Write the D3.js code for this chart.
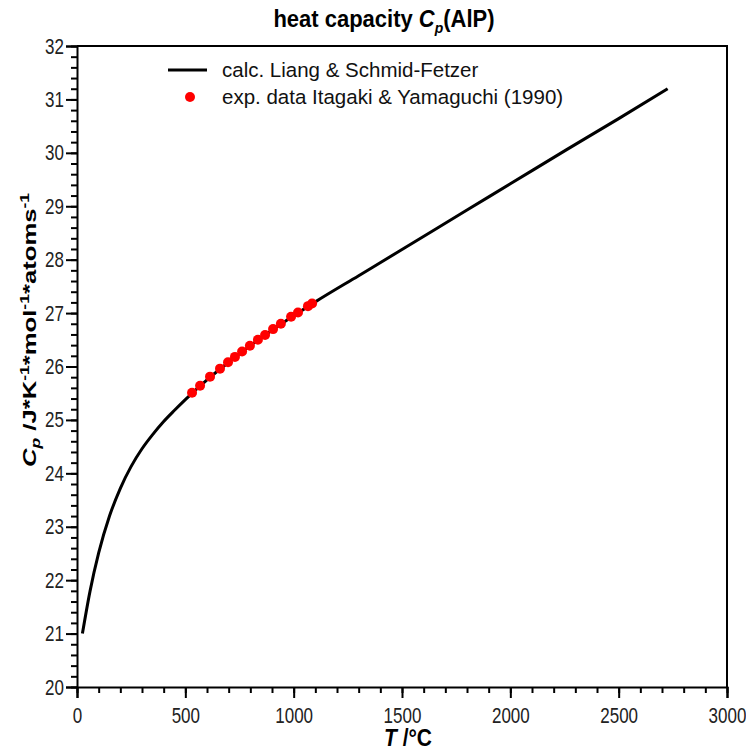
<!DOCTYPE html>
<html>
<head>
<meta charset="utf-8">
<script src="https://cdn.jsdelivr.net/npm/d3@7"></script>
<style>
  body { margin: 0; background: #fff; }
  svg text { font-family: "Liberation Sans", Arial, sans-serif; }
</style>
</head>
<body>
<svg id="chart" width="746" height="751"></svg>
<script>
// calculated curve (T in °C, Cp)
var calcT  = [25, 60, 100, 150, 200, 250, 300, 350, 400, 450, 500, 600, 700, 800, 900, 1000, 1100, 1300, 1500, 1800, 2000, 2260, 2500, 2726];
var calcCp = [21.0, 21.79, 22.51, 23.2, 23.72, 24.13, 24.46, 24.73, 24.97, 25.18, 25.38, 25.75, 26.08, 26.39, 26.68, 26.95, 27.21, 27.7, 28.19, 28.93, 29.42, 30.06, 30.64, 31.2];

// experimental points, Itagaki & Yamaguchi (1990)
var expT  = [531, 568, 614, 660, 697, 729, 762, 798, 835, 868, 905, 941, 988, 1020, 1066, 1085];
var expCp = [25.51, 25.64, 25.81, 25.96, 26.08, 26.18, 26.28, 26.39, 26.5, 26.59, 26.7, 26.8, 26.93, 27.01, 27.13, 27.18];

var xTicks = [0, 500, 1000, 1500, 2000, 2500, 3000];
var yTicks = [20, 21, 22, 23, 24, 25, 26, 27, 28, 29, 30, 31, 32];

var svg = d3.select("#chart");
var margin = { top: 46, right: 19, bottom: 64, left: 77 };
var width = 746 - margin.left - margin.right;
var height = 751 - margin.top - margin.bottom;

var g = svg.append("g")
    .attr("transform", "translate(" + margin.left + "," + margin.top + ")");

var x = d3.scaleLinear().domain([0, 3000]).range([0, width]);
var y = d3.scaleLinear().domain([20, 32]).range([height, 0]);

// minor ticks
g.append("g")
    .attr("transform", "translate(0," + height + ")")
    .call(d3.axisBottom(x).tickValues(d3.range(0, 3001, 100)).tickSize(6).tickFormat(""))
    .call(function(s) { s.select(".domain").remove(); });
g.append("g")
    .call(d3.axisLeft(y).tickValues(d3.range(0, 61).map(function(i) { return 20 + i * 0.2; })).tickSize(6).tickFormat(""))
    .call(function(s) { s.select(".domain").remove(); });

// major ticks
var xAxis = g.append("g")
    .attr("transform", "translate(0," + height + ")")
    .call(d3.axisBottom(x).tickValues(xTicks).tickSize(11).tickFormat(d3.format("d")));
var yAxis = g.append("g")
    .call(d3.axisLeft(y).tickValues(yTicks).tickSize(11).tickPadding(2));

g.selectAll(".tick line").attr("stroke", "#000").attr("stroke-width", 2);
g.selectAll(".domain").attr("stroke-width", 2);
g.selectAll(".tick text").attr("font-size", 17).attr("fill", "#222")
    .attr("font-family", "'Liberation Sans', Arial, sans-serif");
// labels in the reference look vertically stretched
xAxis.selectAll(".tick text")
    .attr("y", 0)
    .attr("transform", "translate(0,20) scale(1,1.3)");
yAxis.selectAll(".tick text")
    .attr("transform", "scale(1,1.3)");

// frame top and right
g.append("path")
    .attr("d", "M0,0H" + width + "V" + height)
    .attr("fill", "none")
    .attr("stroke", "#000")
    .attr("stroke-width", 2);

// calc line
var calcData = calcT.map(function(t, i) { return { t: t, cp: calcCp[i] }; });
var line = d3.line()
    .x(function(d) { return x(d.t); })
    .y(function(d) { return y(d.cp); })
    .curve(d3.curveMonotoneX);
g.append("path")
    .datum(calcData)
    .attr("fill", "none")
    .attr("stroke", "#000")
    .attr("stroke-width", 3)
    .attr("d", line);

// exp points
var expData = expT.map(function(t, i) { return { t: t, cp: expCp[i] }; });
g.selectAll("circle.exp")
    .data(expData)
  .enter().append("circle")
    .attr("class", "exp")
    .attr("cx", function(d) { return x(d.t); })
    .attr("cy", function(d) { return y(d.cp); })
    .attr("r", 5)
    .attr("fill", "#f00");

// legend
var leg = svg.append("g").attr("font-size", 20.5).attr("fill", "#111");
leg.append("line")
    .attr("x1", 168).attr("x2", 207).attr("y1", 70).attr("y2", 70)
    .attr("stroke", "#000").attr("stroke-width", 3);
leg.append("text").attr("x", 222).attr("y", 70).attr("dy", "0.35em")
    .text("calc. Liang & Schmid-Fetzer");
leg.append("circle").attr("cx", 190).attr("cy", 97).attr("r", 5).attr("fill", "#f00");
leg.append("text").attr("x", 222).attr("y", 97).attr("dy", "0.35em")
    .text("exp. data Itagaki & Yamaguchi (1990)");

// title
var title = svg.append("text")
    .attr("transform", "translate(384,27) scale(1,1.1)")
    .attr("text-anchor", "middle")
    .attr("font-size", 22).attr("font-weight", "bold");
title.append("tspan").text("heat capacity ");
title.append("tspan").attr("font-style", "italic").text("C");
title.append("tspan").attr("font-style", "italic").attr("font-size", 14).attr("dy", 5).text("p");
title.append("tspan").attr("dy", -5).text("(AlP)");

// x label
var xl = svg.append("text")
    .attr("transform", "translate(408,746) scale(1,1.15)")
    .attr("text-anchor", "middle")
    .attr("font-size", 21).attr("font-weight", "bold");
xl.append("tspan").attr("font-style", "italic").text("T");
xl.append("tspan").text(" /°C");

// y label
var yl = svg.append("text")
    .attr("transform", "translate(36,330) rotate(-90) scale(1.35,1)")
    .attr("text-anchor", "middle")
    .attr("font-size", 19).attr("font-weight", "bold");
yl.append("tspan").attr("font-style", "italic").text("C");
yl.append("tspan").attr("font-style", "italic").attr("font-size", 13).attr("dy", 4).text("p");
yl.append("tspan").attr("dy", -4).text(" /J*K");
yl.append("tspan").attr("font-size", 13).attr("dy", -7).text("-1");
yl.append("tspan").attr("dy", 7).text("*mol");
yl.append("tspan").attr("font-size", 13).attr("dy", -7).text("-1");
yl.append("tspan").attr("dy", 7).text("*atoms");
yl.append("tspan").attr("font-size", 13).attr("dy", -7).text("-1");
</script>
</body>
</html>
